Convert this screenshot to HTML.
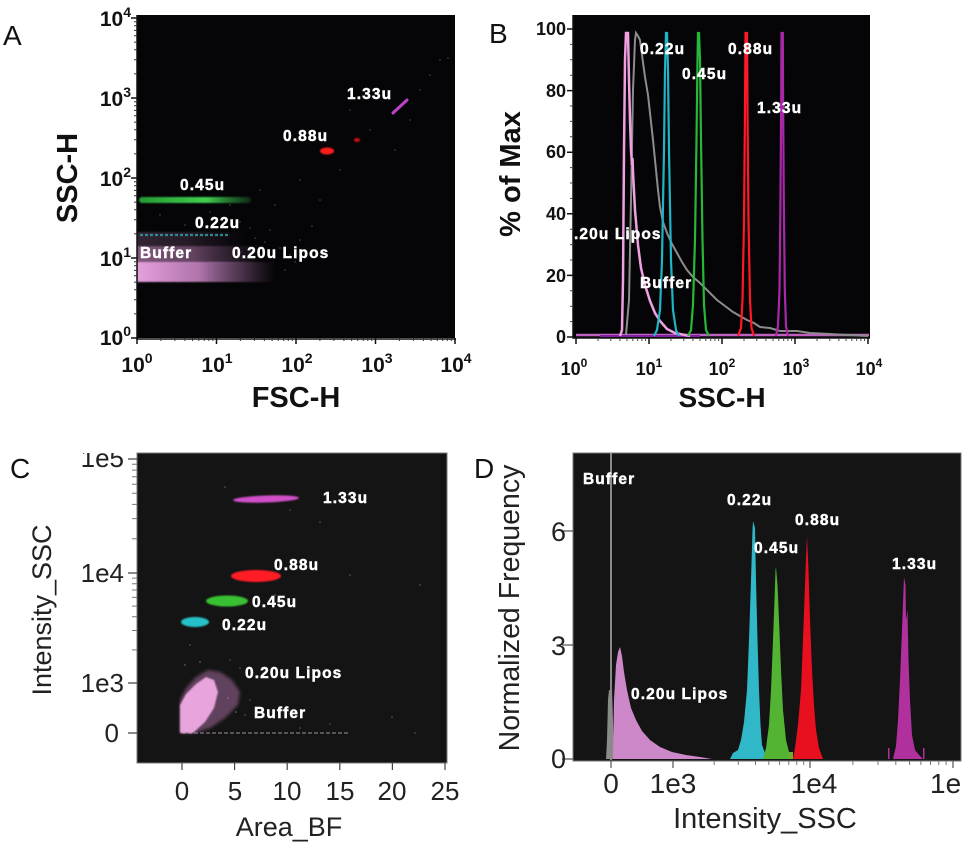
<!DOCTYPE html>
<html><head><meta charset="utf-8"><style>
html,body{margin:0;padding:0;background:#fff;}
svg{display:block;}
text{font-family:"Liberation Sans",Arial,sans-serif;}
.b{font-weight:bold;}
.lab{font-weight:bold;fill:#fff;font-size:15.5px;letter-spacing:1.1px;stroke:#fff;stroke-width:0.45px;}
</style></head><body>
<svg width="967" height="848" viewBox="0 0 967 848" xmlns="http://www.w3.org/2000/svg">
<defs>
<linearGradient id="pinkA" x1="0" x2="1" y1="0" y2="0">
<stop offset="0" stop-color="#f2a8ea" stop-opacity="0.95"/>
<stop offset="0.45" stop-color="#e89ae0" stop-opacity="0.75"/>
<stop offset="0.8" stop-color="#c080c0" stop-opacity="0.3"/>
<stop offset="1" stop-color="#a070a0" stop-opacity="0"/>
</linearGradient>
<linearGradient id="greenA" x1="0" x2="1" y1="0" y2="0">
<stop offset="0" stop-color="#30c040" stop-opacity="0.8"/>
<stop offset="0.6" stop-color="#40d050" stop-opacity="1"/>
<stop offset="1" stop-color="#30b040" stop-opacity="0.2"/>
</linearGradient>
<filter id="bl" x="-20%" y="-50%" width="140%" height="200%"><feGaussianBlur stdDeviation="0.9"/></filter>
<filter id="bl2" x="-20%" y="-50%" width="140%" height="200%"><feGaussianBlur stdDeviation="1.6"/></filter>
<clipPath id="clipC"><rect x="0" y="453" width="480" height="395"/></clipPath>
</defs>

<!-- ================= PANEL A ================= -->
<text x="3" y="45" font-size="28" fill="#111">A</text>
<rect x="137" y="15" width="318" height="323" fill="#050507"/>
<g fill="#8a7a8a" opacity="0.55">
<circle cx="160" cy="215" r="0.8"/><circle cx="185" cy="225" r="0.8"/><circle cx="210" cy="212" r="0.8"/><circle cx="240" cy="222" r="0.8"/>
<circle cx="255" cy="238" r="0.8"/><circle cx="270" cy="230" r="0.8"/><circle cx="230" cy="205" r="0.8"/><circle cx="290" cy="255" r="0.8"/>
<circle cx="300" cy="240" r="0.8"/><circle cx="285" cy="270" r="0.8"/><circle cx="320" cy="200" r="0.8"/><circle cx="340" cy="170" r="0.8"/>
<circle cx="370" cy="130" r="0.8"/><circle cx="410" cy="120" r="0.8"/><circle cx="420" cy="90" r="0.8"/><circle cx="440" cy="60" r="0.8"/>
<circle cx="448" cy="58" r="0.8"/><circle cx="395" cy="150" r="0.8"/><circle cx="260" cy="190" r="0.8"/><circle cx="300" cy="180" r="0.8"/>
<circle cx="350" cy="110" r="0.8"/><circle cx="430" cy="75" r="0.8"/><circle cx="312" cy="226" r="0.8"/><circle cx="275" cy="205" r="0.8"/>
<circle cx="280" cy="248" r="0.8"/><circle cx="295" cy="262" r="0.8"/><circle cx="265" cy="242" r="0.8"/><circle cx="250" cy="228" r="0.8"/>
</g>
<rect x="137" y="262" width="138" height="20" fill="url(#pinkA)" filter="url(#bl)"/>
<rect x="137" y="246" width="125" height="17" fill="url(#pinkA)" opacity="0.55" filter="url(#bl)"/>
<rect x="137" y="232" width="110" height="14" fill="url(#pinkA)" opacity="0.2" filter="url(#bl)"/>
<line x1="140" y1="235" x2="228" y2="235" stroke="#30b0b0" stroke-width="2.2" stroke-dasharray="3 2" opacity="0.75"/>
<rect x="139" y="197" width="112" height="6" rx="3" fill="url(#greenA)" filter="url(#bl)"/>
<ellipse cx="327" cy="151" rx="7" ry="3.5" fill="#ff1a1a" filter="url(#bl)"/>
<ellipse cx="357" cy="140" rx="3" ry="2" fill="#d01010" filter="url(#bl)"/>
<line x1="393" y1="113" x2="407" y2="100" stroke="#c040c8" stroke-width="3" stroke-linecap="round"/>
<text class="lab" x="347" y="99">1.33u</text>
<text class="lab" x="283" y="141">0.88u</text>
<text class="lab" x="180" y="190">0.45u</text>
<text class="lab" x="195" y="228">0.22u</text>
<text class="lab" x="140" y="258">Buffer</text>
<text class="lab" x="232" y="258">0.20u Lipos</text>
<path d="M137 15 V339 H456" fill="none" stroke="#111" stroke-width="1.5"/>
<g stroke="#111" stroke-width="1.5">
<path d="M131 338H137M131 258H137M131 178H137M131 98H137M131 18H137"/>
<path d="M137 338V344M216.5 338V344M296 338V344M375.5 338V344M455 338V344"/>
</g>
<g stroke="#333" stroke-width="1">
<path d="M134 313.9H137M134 299.8H137M134 289.8H137M134 282.1H137M134 275.8H137M134 270.4H137M134 265.8H137M134 261.7H137
M134 233.9H137M134 219.8H137M134 209.8H137M134 202.1H137M134 195.8H137M134 190.4H137M134 185.8H137M134 181.7H137
M134 153.9H137M134 139.8H137M134 129.8H137M134 122.1H137M134 115.8H137M134 110.4H137M134 105.8H137M134 101.7H137
M134 73.9H137M134 59.8H137M134 49.8H137M134 42.1H137M134 35.8H137M134 30.4H137M134 25.8H137M134 21.7H137"/>
<path d="M160.9 338v3M174.9 338v3M184.9 338v3M192.6 338v3M198.8 338v3M204.2 338v3M208.8 338v3M212.8 338v3
M240.4 338v3M254.4 338v3M264.4 338v3M272.1 338v3M278.3 338v3M283.7 338v3M288.3 338v3M292.3 338v3
M319.9 338v3M333.9 338v3M343.9 338v3M351.6 338v3M357.8 338v3M363.2 338v3M367.8 338v3M371.8 338v3
M399.4 338v3M413.4 338v3M423.4 338v3M431.1 338v3M437.3 338v3M442.7 338v3M447.3 338v3M451.3 338v3"/>
</g>
<g class="b" font-size="21" fill="#111" text-anchor="end">
<text x="131" y="26">10<tspan dy="-9" font-size="14">4</tspan></text>
<text x="131" y="106">10<tspan dy="-9" font-size="14">3</tspan></text>
<text x="131" y="186">10<tspan dy="-9" font-size="14">2</tspan></text>
<text x="131" y="266">10<tspan dy="-9" font-size="14">1</tspan></text>
<text x="131" y="345">10<tspan dy="-9" font-size="14">0</tspan></text>
</g>
<g class="b" font-size="21" fill="#111" text-anchor="middle">
<text x="137" y="372">10<tspan dy="-9" font-size="14">0</tspan></text>
<text x="217" y="372">10<tspan dy="-9" font-size="14">1</tspan></text>
<text x="297" y="372">10<tspan dy="-9" font-size="14">2</tspan></text>
<text x="377" y="372">10<tspan dy="-9" font-size="14">3</tspan></text>
<text x="456" y="372">10<tspan dy="-9" font-size="14">4</tspan></text>
</g>
<text class="b" x="296" y="407" font-size="29" fill="#111" text-anchor="middle">FSC-H</text>
<text class="b" transform="translate(77,178) rotate(-90)" font-size="29" fill="#111" text-anchor="middle">SSC-H</text>

<!-- ================= PANEL B ================= -->
<text x="489" y="43" font-size="28" fill="#111">B</text>
<rect x="573" y="15" width="297" height="323" fill="#050507"/>
<line x1="576" y1="335" x2="869" y2="335" stroke="#c060c0" stroke-width="2.5"/>
<line x1="600" y1="336" x2="700" y2="336" stroke="#8020a0" stroke-width="2"/>
<polyline fill="none" stroke="#8c8c8c" stroke-width="2" points="626,335 629,300 631,200 633,90 635,40 636,33 638,36 640,40 642,55 645,77 648,95 650,113 653,140 655,160 658,190 660,207 663,222 667,233 672,244 677,253 682,262 687,270 693,277 700,283 708,291 717,300 725,306 733,312 740,316 747,320 754,323 760,327 770,328 780,331 797,331 810,333 830,334 847,335 868,336"/>
<polyline fill="none" stroke="#f0a0e0" stroke-width="2.5" points="620,336 622,330 623,280 624,150 625,60 626,33 628,33 629,80 630,120 631,150 632,165 632.5,158 633,172 635,210 638,245 641,268 645,285 650,301 655,313 660,321 667,329 675,333 690,336"/>
<polyline fill="none" stroke="#20b4c4" stroke-width="2.2" points="654,336 657,330 660,310 662,260 664,150 665,70 666,33 667,33 668,70 669,150 671,260 673,310 676,330 679,336"/>
<polyline fill="none" stroke="#28b838" stroke-width="2.2" points="688,336 691,330 693,305 695,240 696.5,140 697.5,60 698,33 699,33 700,60 701,140 702.5,240 704,305 706,330 709,336"/>
<polyline fill="none" stroke="#ff1828" stroke-width="2.2" points="738,336 741,328 742.5,300 744,220 745,110 745.5,33 747,33 747.5,110 748.5,220 750,300 751.5,328 754,336"/>
<polyline fill="none" stroke="#a828a8" stroke-width="2.2" points="776,336 778,326 779.5,290 780.5,200 781.2,100 781.5,33 782.8,33 783.1,100 783.8,200 784.8,290 786,326 788,336"/>
<text class="lab" x="640" y="54">0.22u</text>
<text class="lab" x="682" y="79">0.45u</text>
<text class="lab" x="728" y="54">0.88u</text>
<text class="lab" x="757" y="113">1.33u</text>
<text class="lab" x="574" y="239">.20u Lipos</text>
<text class="lab" x="640" y="288">Buffer</text>
<path d="M573 15 V338 H870" fill="none" stroke="#111" stroke-width="1.5"/>
<g stroke="#111" stroke-width="1.5">
<path d="M567 29H573M567 90.6H573M567 152.2H573M567 213.8H573M567 275.4H573M567 337H573"/>
<path d="M576 338v6M649 338v6M722 338v6M795 338v6M868 338v6"/>
</g>
<g stroke="#444" stroke-width="1">
<path d="M570 44.4H573M570 59.8H573M570 75.2H573M570 106H573M570 121.4H573M570 136.8H573M570 167.6H573M570 183H573M570 198.4H573M570 229.2H573M570 244.6H573M570 260H573M570 290.8H573M570 306.2H573M570 321.6H573"/>
<path d="M598 338v3M610.8 338v3M619.9 338v3M627 338v3M632.8 338v3M637.7 338v3M641.9 338v3M645.6 338v3
M671 338v3M683.8 338v3M692.9 338v3M700 338v3M705.8 338v3M710.7 338v3M714.9 338v3M718.6 338v3
M744 338v3M756.8 338v3M765.9 338v3M773 338v3M778.8 338v3M783.7 338v3M787.9 338v3M791.6 338v3
M817 338v3M829.8 338v3M838.9 338v3M846 338v3M851.8 338v3M856.7 338v3M860.9 338v3M864.6 338v3"/>
</g>
<g class="b" font-size="18" fill="#111" text-anchor="end">
<text x="566" y="35">100</text>
<text x="566" y="97">80</text>
<text x="566" y="158">60</text>
<text x="566" y="220">40</text>
<text x="566" y="282">20</text>
<text x="566" y="343">0</text>
</g>
<g class="b" font-size="18" fill="#111" text-anchor="middle">
<text x="574" y="375">10<tspan dy="-8" font-size="12">0</tspan></text>
<text x="649" y="375">10<tspan dy="-8" font-size="12">1</tspan></text>
<text x="722" y="375">10<tspan dy="-8" font-size="12">2</tspan></text>
<text x="796" y="375">10<tspan dy="-8" font-size="12">3</tspan></text>
<text x="869" y="375">10<tspan dy="-8" font-size="12">4</tspan></text>
</g>
<text class="b" x="722" y="407" font-size="28" fill="#111" text-anchor="middle">SSC-H</text>
<text class="b" transform="translate(520,174) rotate(-90)" font-size="29" fill="#111" text-anchor="middle">% of Max</text>

<!-- ================= PANEL C ================= -->
<text x="10" y="478" font-size="28" fill="#111">C</text>
<rect x="137" y="453" width="310" height="310" fill="#141414" stroke="#7a7a7a" stroke-width="1"/>
<g fill="#9a8a9a" opacity="0.6">
<circle cx="225" cy="487" r="0.8"/><circle cx="290" cy="510" r="0.8"/><circle cx="320" cy="522" r="0.8"/><circle cx="350" cy="575" r="0.8"/>
<circle cx="275" cy="595" r="0.8"/><circle cx="260" cy="630" r="0.8"/><circle cx="190" cy="645" r="0.8"/><circle cx="230" cy="660" r="0.8"/>
<circle cx="240" cy="668" r="0.8"/><circle cx="250" cy="700" r="0.8"/><circle cx="245" cy="715" r="0.8"/><circle cx="420" cy="585" r="0.8"/>
<circle cx="392" cy="717" r="0.8"/><circle cx="415" cy="733" r="0.8"/><circle cx="300" cy="728" r="0.8"/><circle cx="330" cy="724" r="0.8"/>
<circle cx="185" cy="665" r="0.9"/><circle cx="200" cy="662" r="0.9"/><circle cx="228" cy="698" r="0.9"/><circle cx="236" cy="712" r="0.9"/>
</g>
<line x1="182" y1="733" x2="350" y2="733" stroke="#a090a0" stroke-width="1.3" stroke-dasharray="4 2" opacity="0.8"/>
<polygon points="180,733 180,700 186,688 196,677 208,670 220,672 232,680 240,692 238,705 225,718 210,728 195,733" fill="#c07ab8" opacity="0.45" filter="url(#bl2)"/>
<polygon points="180,733 180,705 186,694 196,684 206,677 214,680 218,692 214,708 205,722 193,733" fill="#e8a4dc" filter="url(#bl)"/>
<ellipse cx="266" cy="499" rx="33" ry="3.5" fill="#d050c8" filter="url(#bl)" transform="rotate(-2 266 499)"/>
<ellipse cx="256" cy="576" rx="25" ry="6" fill="#ff1a28" filter="url(#bl)"/>
<ellipse cx="227" cy="601" rx="21" ry="5.5" fill="#38c030" filter="url(#bl)"/>
<ellipse cx="195" cy="622" rx="14" ry="5" fill="#28c0c8" filter="url(#bl)"/>
<text class="lab" x="323" y="503">1.33u</text>
<text class="lab" x="274" y="570">0.88u</text>
<text class="lab" x="252" y="607">0.45u</text>
<text class="lab" x="222" y="630">0.22u</text>
<text class="lab" x="245" y="678">0.20u Lipos</text>
<text class="lab" x="254" y="718">Buffer</text>
<g stroke="#444" stroke-width="1.2">
<path d="M128 459H137M128 573H137M128 683H137M128 733H137"/>
<path d="M182 763v7M234.6 763v7M287.2 763v7M339.8 763v7M392.4 763v7M445 763v7"/>
</g>
<g stroke="#777" stroke-width="1">
<path d="M132 538.7H137M132 518.6H137M132 504.4H137M132 493.3H137M132 484.3H137M132 476.7H137M132 470.1H137M132 464.2H137
M132 649.9H137M132 630.5H137M132 616.8H137M132 606.1H137M132 597.4H137M132 590H137M132 583.7H137M132 578.1H137"/>
</g>
<g clip-path="url(#clipC)" font-size="26" fill="#222" text-anchor="end">
<text x="124" y="467">1e5</text>
</g>
<g font-size="26" fill="#222" text-anchor="end">
<text x="124" y="582">1e4</text>
<text x="124" y="692">1e3</text>
<text x="119" y="742">0</text>
</g>
<g font-size="26" fill="#222" text-anchor="middle">
<text x="182" y="800">0</text>
<text x="235" y="800">5</text>
<text x="287" y="800">10</text>
<text x="340" y="800">15</text>
<text x="392" y="800">20</text>
<text x="445" y="800">25</text>
</g>
<text x="289" y="836" font-size="27" fill="#222" text-anchor="middle">Area_BF</text>
<text transform="translate(51,610) rotate(-90)" font-size="27" fill="#222" text-anchor="middle">Intensity_SSC</text>

<!-- ================= PANEL D ================= -->
<text x="474" y="478" font-size="28" fill="#111">D</text>
<rect x="573" y="453" width="388" height="308" fill="#141414" stroke="#7a7a7a" stroke-width="1"/>
<line x1="611" y1="453" x2="611" y2="760" stroke="#8a8a8a" stroke-width="2"/>
<polygon points="606,759 607,740 608,700 609,690 612,690 613,720 614,759" fill="#8a8a8a"/>
<polygon points="613,759 614,700 616,665 618,652 620,647 622,656 624,672 627,690 631,708 636,720 642,731 650,740 660,747 672,752 686,755 700,757 712,759" fill="#cc88c8"/>
<polygon points="730,759 733,753 738,750 741,740 744,722 747,690 749,640 751,580 752.5,530 753,521 755,528 756,580 757.5,640 759,690 760.5,725 762,745 765,753 769,759" fill="#30b8c8"/>
<polygon points="763,759 766,748 769,725 771,690 773,640 774.5,600 775.5,570 776,567 777.5,585 779,620 781,670 783,710 786,740 789,752 792,759" fill="#52b432"/>
<rect x="788" y="752" width="5" height="7" fill="#6ab030"/>
<polygon points="793,759 795,748 798,725 801,690 803,640 805,585 806.5,545 807,537 808.5,570 810,620 812,670 814,705 816,730 819,748 823,759" fill="#e8101e"/>
<polygon points="893,759 896,746 898,720 900,680 902,630 903.5,590 904,577 905.5,585 906,620 907.5,610 908.5,660 910,700 912,735 915,750 919,755 923,759" fill="#b0309e"/>
<rect x="888" y="748" width="1.5" height="11" fill="#b0309e"/>
<rect x="923" y="748" width="1.5" height="11" fill="#b0309e"/>
<text class="lab" x="583" y="484" font-size="14.5">Buffer</text>
<text class="lab" x="727" y="505">0.22u</text>
<text class="lab" x="754" y="553">0.45u</text>
<text class="lab" x="795" y="525">0.88u</text>
<text class="lab" x="892" y="569">1.33u</text>
<text class="lab" x="631" y="699">0.20u Lipos</text>
<g stroke="#555" stroke-width="1.2">
<path d="M562 531H573M562 645H573M562 759H573"/>
<path d="M611 761v7M673 761v7M810 761v7M953 761v7"/>
</g>
<g stroke="#777" stroke-width="1">
<path d="M714.2 761v4M738.3 761v4M755.5 761v4M768.8 761v4M779.6 761v4M788.8 761v4M796.7 761v4M803.7 761v4
M852.9 761v4M878 761v4M895.8 761v4M909.6 761v4M920.9 761v4M930.5 761v4M938.8 761v4M946.1 761v4"/>
</g>
<g font-size="27" fill="#222" text-anchor="end">
<text x="566" y="541">6</text>
<text x="566" y="655">3</text>
<text x="566" y="768">0</text>
</g>
<g font-size="28" fill="#222" text-anchor="middle">
<text x="611" y="793">0</text>
<text x="673" y="793">1e3</text>
<text x="814" y="793">1e4</text>
</g>
<text x="930" y="793" font-size="28" fill="#222">1e</text>
<text x="765" y="828" font-size="29" fill="#222" text-anchor="middle">Intensity_SSC</text>
<text transform="translate(519,608) rotate(-90)" font-size="28.5" fill="#222" text-anchor="middle">Normalized Frequency</text>
</svg>
</body></html>
